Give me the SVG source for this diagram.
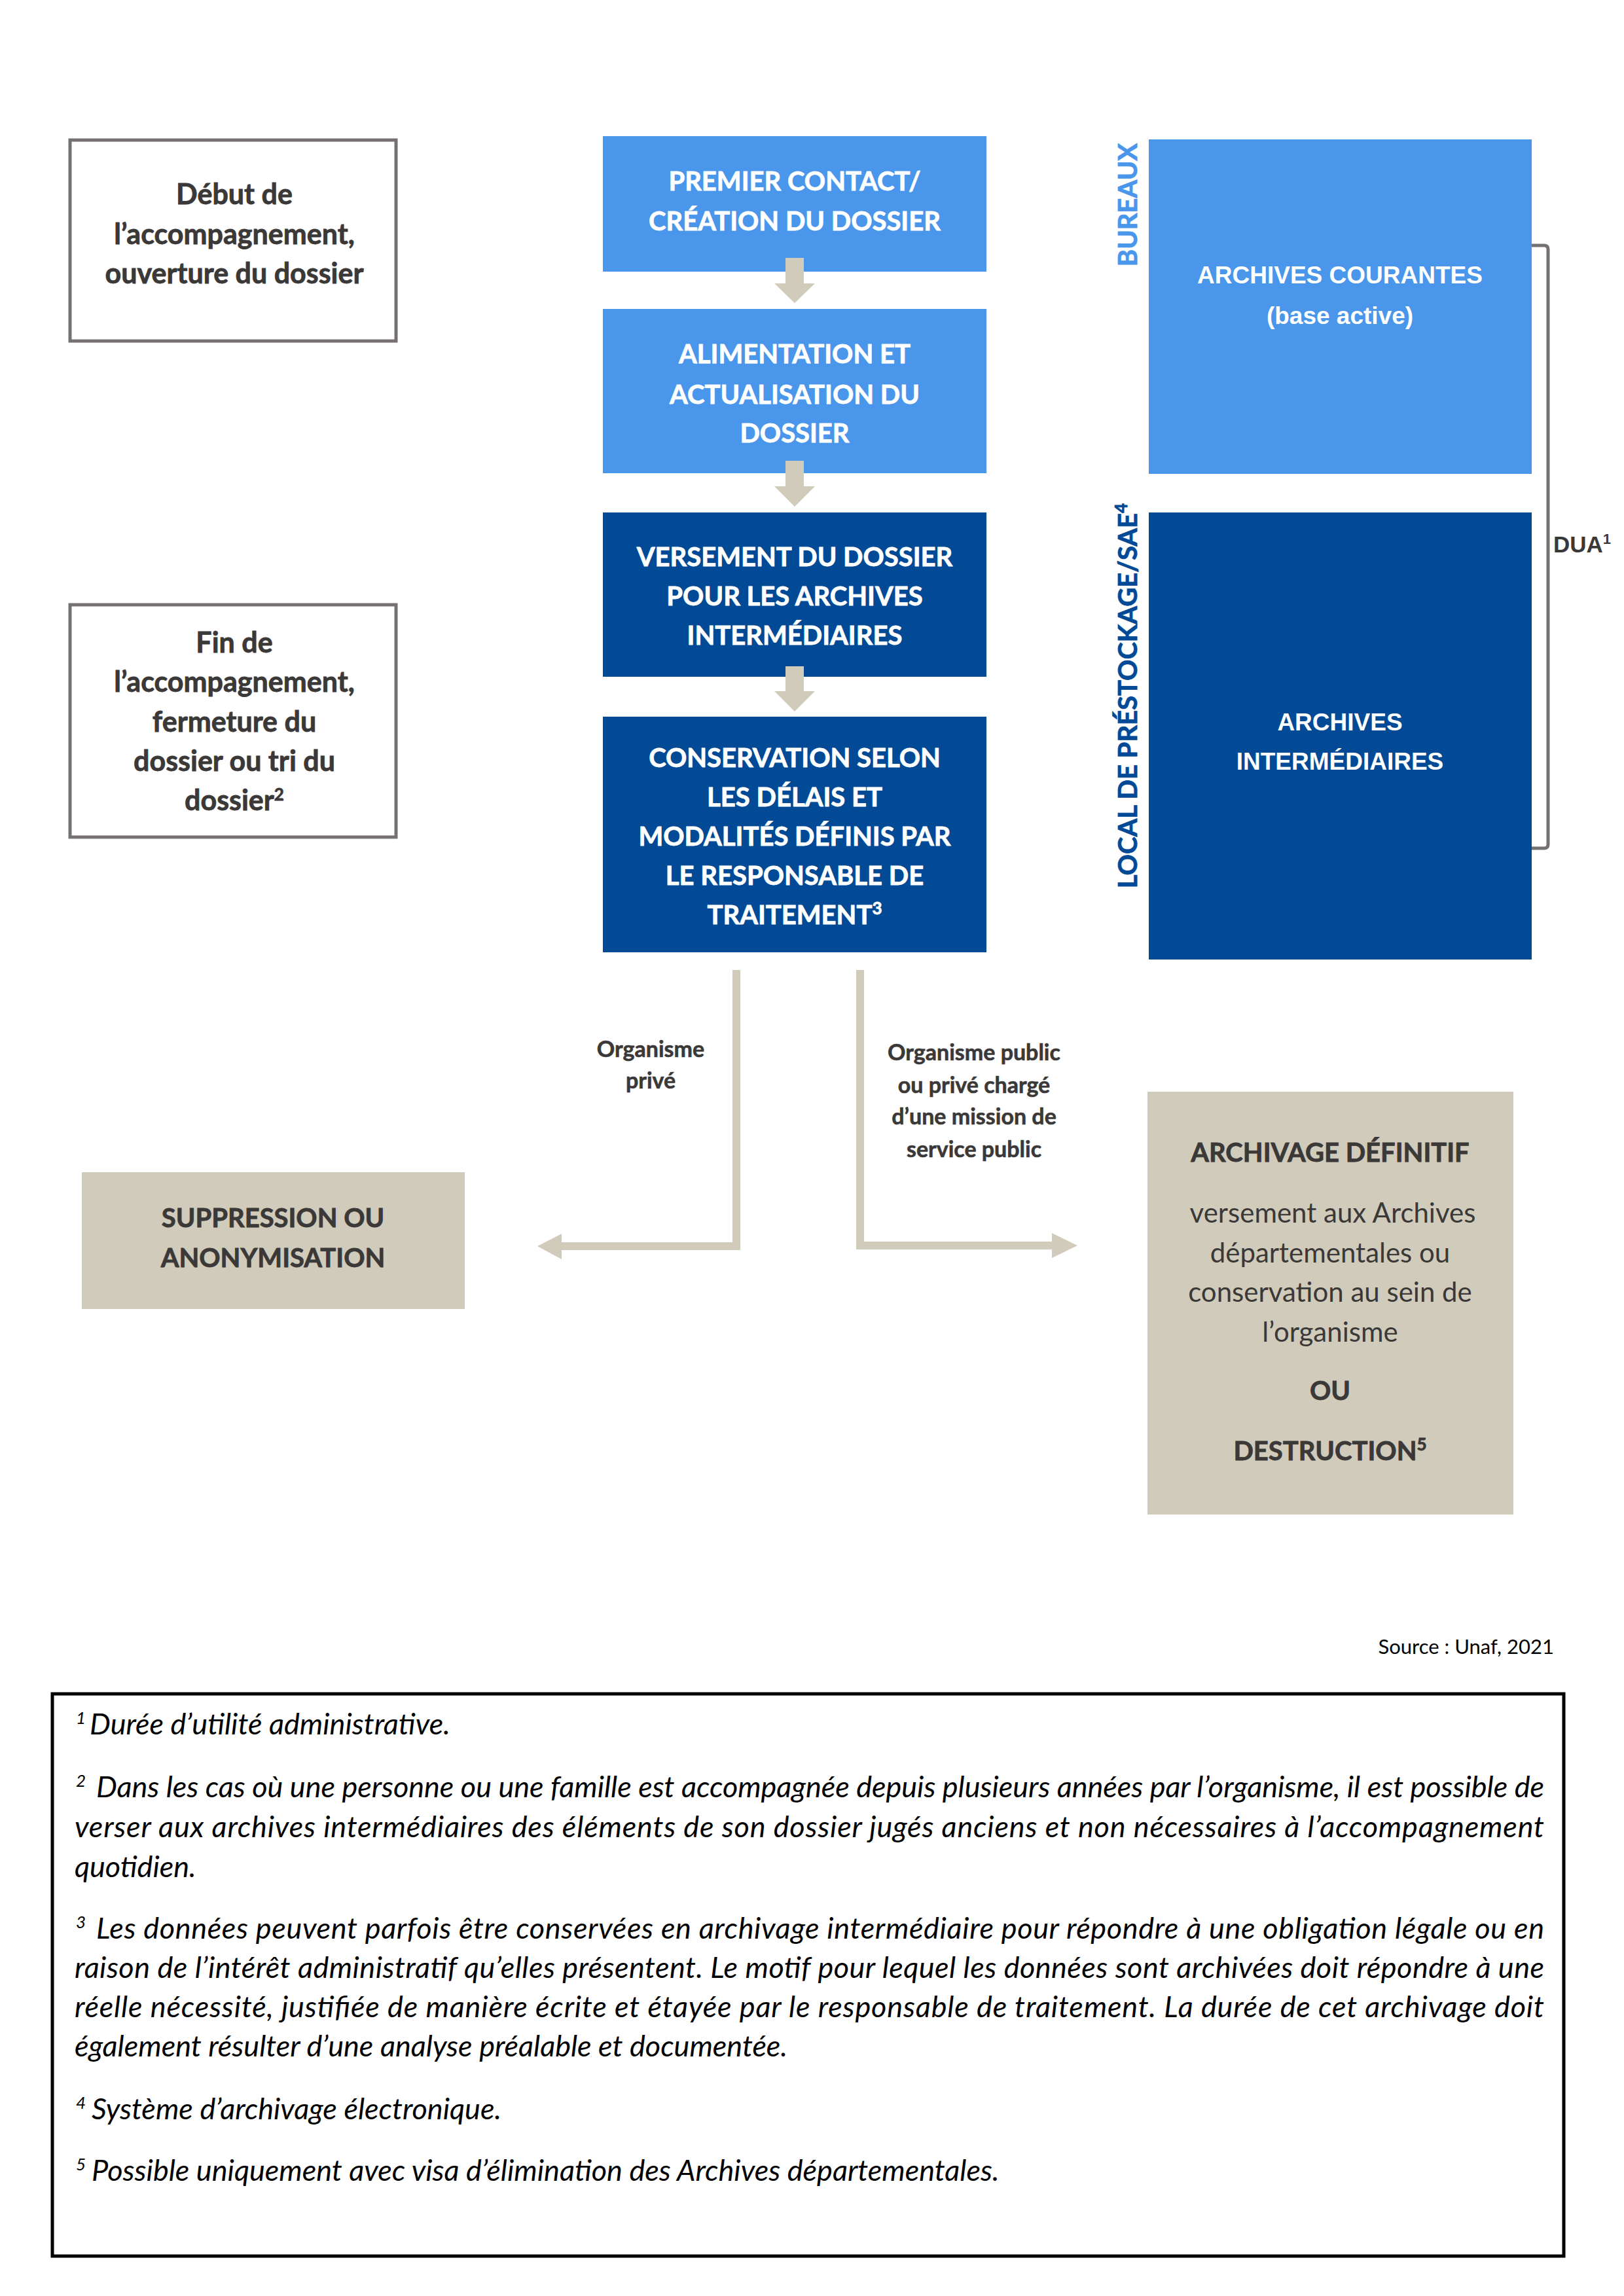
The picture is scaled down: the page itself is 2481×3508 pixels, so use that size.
<svg xmlns="http://www.w3.org/2000/svg" width="2481" height="3508" viewBox="0 0 2481 3508">
<style>
.bg{fill:#ffffff}
.lb{fill:#4A96EA}
.db{fill:#034A96}
.bz{fill:#D0CBBA}
.ob{fill:#ffffff;stroke:#767171;stroke-width:5}
.t{font-family:Lato,"Liberation Sans",sans-serif;font-weight:bold;font-size:40px;text-anchor:middle}
.tl{font-size:43px}
.w{fill:#ffffff;stroke:#ffffff;stroke-width:0.8}
.k{fill:#3B3838;stroke:#3B3838;stroke-width:0.8}
.g{font-family:"Liberation Sans",Arial,sans-serif;font-weight:bold;font-size:37px;text-anchor:middle;fill:#ffffff}
.r{font-family:Lato,"Liberation Sans",sans-serif;font-size:42px;text-anchor:middle;fill:#3B3838}
.lab{font-family:Lato,"Liberation Sans",sans-serif;font-weight:bold;font-size:34px;text-anchor:middle;fill:#3B3838;stroke:#3B3838;stroke-width:0.6}
.fn{font-family:Lato,"Liberation Sans",sans-serif;font-style:italic;font-size:45px;fill:#000000}
.sup{font-size:26px}
.con{fill:none;stroke:#D0CBBA;stroke-width:12;stroke-linejoin:miter}
</style>
<rect class="bg" x="0" y="0" width="2481" height="3508"/>

<g id="debut">
<rect class="ob" x="107" y="214" width="498" height="307"/>
<text class="t tl k" x="358" y="312">Début de</text>
<text class="t tl k" x="358" y="373">l’accompagnement,</text>
<text class="t tl k" x="358" y="433">ouverture du dossier</text>
</g>

<g id="fin">
<rect class="ob" x="107" y="924" width="498" height="355"/>
<text class="t tl k" x="358" y="997">Fin de</text>
<text class="t tl k" x="358" y="1057">l’accompagnement,</text>
<text class="t tl k" x="358" y="1118">fermeture du</text>
<text class="t tl k" x="358" y="1178">dossier ou tri du</text>
<text class="t tl k" x="358" y="1238">dossier<tspan class="sup" dy="-15">2</tspan></text>
</g>

<g id="premier-contact">
<rect class="lb" x="921" y="208" width="586" height="207"/>
<text class="t w" x="1214" y="291">PREMIER CONTACT/</text>
<text class="t w" x="1214" y="352">CRÉATION DU DOSSIER</text>
</g>

<g id="alimentation">
<rect class="lb" x="921" y="472" width="586" height="251"/>
<text class="t w" x="1214" y="555">ALIMENTATION ET</text>
<text class="t w" x="1214" y="617">ACTUALISATION DU</text>
<text class="t w" x="1214" y="676">DOSSIER</text>
</g>

<g id="versement">
<rect class="db" x="921" y="783" width="586" height="251"/>
<text class="t w" x="1214" y="865">VERSEMENT DU DOSSIER</text>
<text class="t w" x="1214" y="925">POUR LES ARCHIVES</text>
<text class="t w" x="1214" y="985">INTERMÉDIAIRES</text>
</g>

<g id="conservation">
<rect class="db" x="921" y="1095" width="586" height="360"/>
<text class="t w" x="1214" y="1172">CONSERVATION SELON</text>
<text class="t w" x="1214" y="1232">LES DÉLAIS ET</text>
<text class="t w" x="1214" y="1292">MODALITÉS DÉFINIS PAR</text>
<text class="t w" x="1214" y="1352">LE RESPONSABLE DE</text>
<text class="t w" x="1214" y="1412">TRAITEMENT<tspan class="sup" dy="-15">3</tspan></text>
</g>

<g id="archives-courantes">
<rect class="lb" x="1755" y="213" width="585" height="511"/>
<text class="g" x="2047" y="433">ARCHIVES COURANTES</text>
<text class="g" x="2047" y="495">(base active)</text>
</g>

<g id="archives-intermediaires">
<rect class="db" x="1755" y="783" width="585" height="683"/>
<text class="g" x="2047" y="1116">ARCHIVES</text>
<text class="g" x="2047" y="1176">INTERMÉDIAIRES</text>
</g>

<g id="label-bureaux">
<text class="t" fill="#4A96EA" stroke="#4A96EA" stroke-width="0.8" x="1737" y="313" transform="rotate(-90 1737 313)">BUREAUX</text>
</g>

<g id="label-local">
<text class="t" fill="#034A96" stroke="#034A96" stroke-width="0.8" x="1737" y="1063" transform="rotate(-90 1737 1063)">LOCAL DE PRÉSTOCKAGE/SAE<tspan class="sup" dy="-15">4</tspan></text>
</g>

<g id="dua">
<path d="M2340 375 H2359 Q2365 375 2365 381 V1290 Q2365 1296 2359 1296 H2340" fill="none" stroke="#767171" stroke-width="5"/>
<text x="2373" y="844" font-family="Liberation Sans, Arial, sans-serif" font-weight="bold" font-size="35" fill="#3B3838">DUA<tspan font-size="22" dy="-13">1</tspan></text>
</g>

<g id="suppression">
<rect class="bz" x="125" y="1791" width="585" height="209"/>
<text class="t k" x="417" y="1875">SUPPRESSION OU</text>
<text class="t k" x="417" y="1936">ANONYMISATION</text>
</g>

<g id="archivage-definitif">
<rect class="bz" x="1753" y="1668" width="559" height="646"/>
<text class="t k" x="2032" y="1775">ARCHIVAGE DÉFINITIF</text>
<text class="r" x="2036" y="1868">versement aux Archives</text>
<text class="r" x="2032" y="1929">départementales ou</text>
<text class="r" x="2032" y="1989">conservation au sein de</text>
<text class="r" x="2032" y="2050">l’organisme</text>
<text class="t k" x="2032" y="2139">OU</text>
<text class="t k" x="2032" y="2231">DESTRUCTION<tspan class="sup" dy="-15">5</tspan></text>
</g>

<g id="connectors">
<polygon class="bz" points="1200,394 1228,394 1228,433 1245,433 1214,463 1183,433 1200,433"/>
<polygon class="bz" points="1200,704 1228,704 1228,743 1245,743 1214,774 1183,743 1200,743"/>
<polygon class="bz" points="1200,1018 1228,1018 1228,1056 1245,1056 1214,1087 1183,1056 1200,1056"/>
<path class="con" d="M1125 1482 V1904 H856"/>
<polygon class="bz" points="858,1885 821,1904 858,1924"/>
<path class="con" d="M1314 1482 V1903 H1609"/>
<polygon class="bz" points="1607,1884 1646,1903 1607,1922"/>
<text class="lab" x="994" y="1615">Organisme</text>
<text class="lab" x="994" y="1663">privé</text>
<text class="lab" x="1488" y="1620">Organisme public</text>
<text class="lab" x="1488" y="1670">ou privé chargé</text>
<text class="lab" x="1488" y="1718">d’une mission de</text>
<text class="lab" x="1488" y="1768">service public</text>
</g>

<g id="source">
<text x="2374" y="2527" font-family="Lato, Liberation Sans, sans-serif" font-size="31" text-anchor="end" fill="#000000">Source : Unaf, 2021</text>
</g>

<g id="footnotes">
<rect x="80" y="2588" width="2309" height="859" fill="none" stroke="#000000" stroke-width="5"/>
<text class="fn sup" x="116" y="2634">1</text>
<text class="fn" x="137" y="2650">Durée d’utilité administrative.</text>
<text class="fn sup" x="116" y="2730">2</text>
<text class="fn" x="147" y="2746" textLength="2212" lengthAdjust="spacing">Dans les cas où une personne ou une famille est accompagnée depuis plusieurs années par l’organisme, il est possible de</text>
<text class="fn" x="114" y="2807" textLength="2245" lengthAdjust="spacing">verser aux archives intermédiaires des éléments de son dossier jugés anciens et non nécessaires à l’accompagnement</text>
<text class="fn" x="114" y="2868">quotidien.</text>
<text class="fn sup" x="116" y="2946">3</text>
<text class="fn" x="147" y="2962" textLength="2212" lengthAdjust="spacing">Les données peuvent parfois être conservées en archivage intermédiaire pour répondre à une obligation légale ou en</text>
<text class="fn" x="114" y="3022" textLength="2245" lengthAdjust="spacing">raison de l’intérêt administratif qu’elles présentent. Le motif pour lequel les données sont archivées doit répondre à une</text>
<text class="fn" x="114" y="3082" textLength="2245" lengthAdjust="spacing">réelle nécessité, justifiée de manière écrite et étayée par le responsable de traitement. La durée de cet archivage doit</text>
<text class="fn" x="114" y="3142">également résulter d’une analyse préalable et documentée.</text>
<text class="fn sup" x="116" y="3222">4</text>
<text class="fn" x="140" y="3238">Système d’archivage électronique.</text>
<text class="fn sup" x="116" y="3316">5</text>
<text class="fn" x="140" y="3332">Possible uniquement avec visa d’élimination des Archives départementales.</text>
</g>
</svg>
